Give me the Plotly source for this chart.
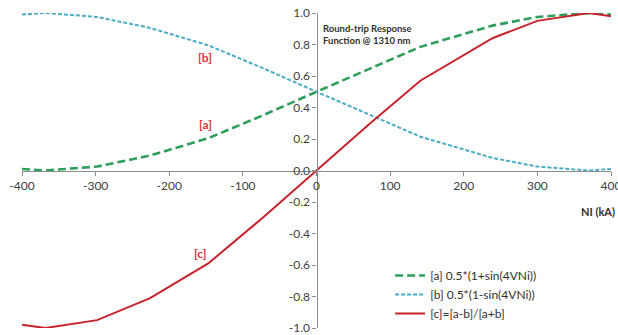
import plotly.graph_objects as go

ni_ka = [-400, -368, -298, -226, -147, -73, 0, 73, 141, 239, 300, 370, 400]
series_a = [0.01, 0.0, 0.025, 0.095, 0.205, 0.35, 0.5, 0.65, 0.785, 0.92, 0.975, 1.0, 0.99]
series_b = [0.99, 1.0, 0.975, 0.905, 0.795, 0.65, 0.5, 0.35, 0.215, 0.08, 0.025, 0.0, 0.01]
series_c = [-0.98, -1.0, -0.95, -0.81, -0.59, -0.30, 0.0, 0.30, 0.57, 0.84, 0.95, 1.0, 0.98]

names = ["[a] 0.5*(1+sin(4VNi))", "[b] 0.5*(1-sin(4VNi))", "[c]=[a-b]/[a+b]"]
x_ticks = [-400, -300, -200, -100, 0, 100, 200, 300, 400]
y_ticks = [-1.0, -0.8, -0.6, -0.4, -0.2, 0.0, 0.2, 0.4, 0.6, 0.8, 1.0]

GREEN = "#2e9e5b"
CYAN = "#4bacc6"
RED = "#c8232c"
LBL = "#e8303a"
FONT = "Lato, 'Liberation Sans', sans-serif"

fig = go.Figure()
fig.add_trace(go.Scatter(x=ni_ka, y=series_a, mode="lines", name=names[0],
                         line=dict(color=GREEN, width=2.6, dash="8px,4px")))
fig.add_trace(go.Scatter(x=ni_ka, y=series_b, mode="lines", name=names[1],
                         line=dict(color=CYAN, width=2, dash="4px,2px")))
fig.add_trace(go.Scatter(x=ni_ka, y=series_c, mode="lines", name=names[2],
                         line=dict(color=RED, width=2)))

axis_common = dict(showgrid=False, zeroline=False, showline=True, linecolor="#8c8c8c",
                   linewidth=1.2, ticks="outside", ticklen=4, tickcolor="#8c8c8c",
                   tickfont=dict(family=FONT, size=12, color="#404040"),
                   anchor="free", position=0.5, automargin=False,
                   ticklabeloverflow="allow")

fig.update_layout(
    width=618, height=335,
    margin=dict(l=22, r=7, t=13, b=7),
    paper_bgcolor="white", plot_bgcolor="white",
    xaxis=dict(range=[-400, 400], tickvals=x_ticks, ticktext=[str(v) for v in x_ticks],
               **axis_common),
    yaxis=dict(range=[-1, 1], tickvals=y_ticks, ticktext=[f"{v:.1f}" for v in y_ticks],
               **axis_common),
    showlegend=True,
    legend=dict(x=0.625, y=0.0, xanchor="left", yanchor="bottom",
                bgcolor="rgba(255,255,255,0)", tracegroupgap=0,
                font=dict(family=FONT, size=12, color="#303030"), itemwidth=30),
    annotations=[
        dict(text="<b>Round-trip Response<br>Function @ 1310 nm</b>", xref="paper", yref="paper",
             x=0.508, y=0.976, xanchor="left", yanchor="top", align="left", showarrow=False,
             font=dict(family=FONT, size=9.5, color="#303030")),
        dict(text="<b>NI (kA)</b>", xref="x", yref="y", x=382, y=-0.26, showarrow=False,
             font=dict(family=FONT, size=11, color="#303030")),
        dict(text="<b>[b]</b>", xref="x", yref="y", x=-151, y=0.72, showarrow=False,
             font=dict(family=FONT, size=12, color=LBL)),
        dict(text="<b>[a]</b>", xref="x", yref="y", x=-151, y=0.29, showarrow=False,
             font=dict(family=FONT, size=12, color=LBL)),
        dict(text="<b>[c]</b>", xref="x", yref="y", x=-158, y=-0.53, showarrow=False,
             font=dict(family=FONT, size=12, color=LBL)),
    ],
)

fig.write_html("out.html")
